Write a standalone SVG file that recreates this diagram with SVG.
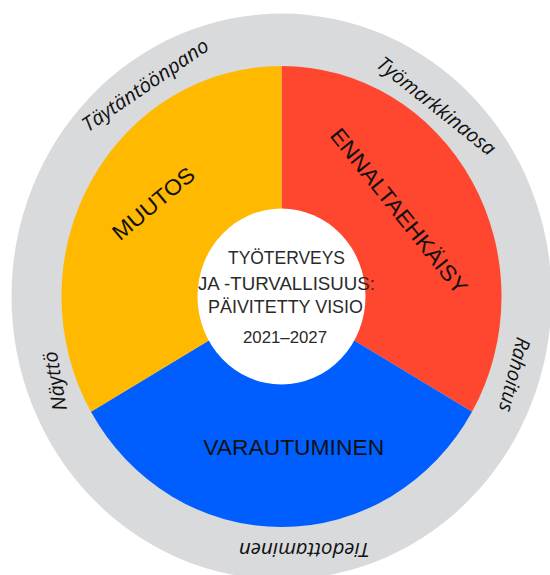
<svg xmlns="http://www.w3.org/2000/svg" width="550" height="575" viewBox="0 0 550 575">
<style>
.ring{font-family:"Open Sans","Liberation Sans",Arial,sans-serif;font-style:italic;font-size:20px;fill:#111;text-anchor:middle}
.head{font-family:"Liberation Sans",Arial,sans-serif;font-size:22px;fill:#111;text-anchor:middle}
.core{font-family:"Liberation Sans",Arial,sans-serif;font-size:18.5px;fill:#2a2a2a;text-anchor:middle}
</style>
<rect width="550" height="575" fill="#ffffff"/>
<g id="wheel" transform="translate(281.5,296.5) scale(1,1.048)">
  <circle id="outer-ring" r="270" fill="#D9DADC"/>
  <path id="ennaltaehkaisy-sector" d="M0,0 L0,-220 A220,220 0 0 1 190.53,110 Z" fill="#FF462E"/>
  <path id="varautuminen-sector" d="M0,0 L190.53,110 A220,220 0 0 1 -190.53,110 Z" fill="#005EFF"/>
  <path id="muutos-sector" d="M0,0 L-190.53,110 A220,220 0 0 1 0,-220 Z" fill="#FFB900"/>
  <circle id="center-disc" r="84" fill="#ffffff"/>
</g>
<g id="ring-labels">
  <text class="ring" transform="translate(149.2,90.8) rotate(-34.3)" textLength="148" lengthAdjust="spacingAndGlyphs">Täytäntöönpano</text>
  <text class="ring" transform="translate(432.1,111.4) rotate(38.5)" textLength="145" lengthAdjust="spacingAndGlyphs">Työmarkkinaosa</text>
  <text class="ring" transform="translate(507.9,373) rotate(104)" textLength="76" lengthAdjust="spacingAndGlyphs">Rahoitus</text>
  <text class="ring" transform="translate(61.7,380) rotate(-100)" textLength="60" lengthAdjust="spacingAndGlyphs">Näyttö</text>
  <text class="ring" transform="translate(304.5,542.5) rotate(180)" textLength="131" lengthAdjust="spacingAndGlyphs">Tiedottaminen</text>
</g>
<g id="muutos">
  <text class="head" transform="translate(158.4,209.4) rotate(-40)" textLength="100" lengthAdjust="spacingAndGlyphs">MUUTOS</text>
</g>
<g id="ennaltaehkaisy">
  <text class="head" transform="translate(393,215.8) rotate(51.4)" textLength="205" lengthAdjust="spacingAndGlyphs">ENNALTAEHKÄISY</text>
</g>
<g id="varautuminen">
  <text class="head" x="293.7" y="455" textLength="181" lengthAdjust="spacingAndGlyphs">VARAUTUMINEN</text>
</g>
<g id="center">
  <text class="core" x="286.5" y="264" textLength="117" lengthAdjust="spacingAndGlyphs">TYÖTERVEYS</text>
  <text class="core" x="286.5" y="289.5" textLength="177" lengthAdjust="spacingAndGlyphs">JA -TURVALLISUUS:</text>
  <text class="core" x="285.5" y="313.3" textLength="155" lengthAdjust="spacingAndGlyphs">PÄIVITETTY VISIO</text>
  <text class="core" x="285" y="343" style="font-size:16px" textLength="84" lengthAdjust="spacingAndGlyphs">2021–2027</text>
</g>
</svg>
